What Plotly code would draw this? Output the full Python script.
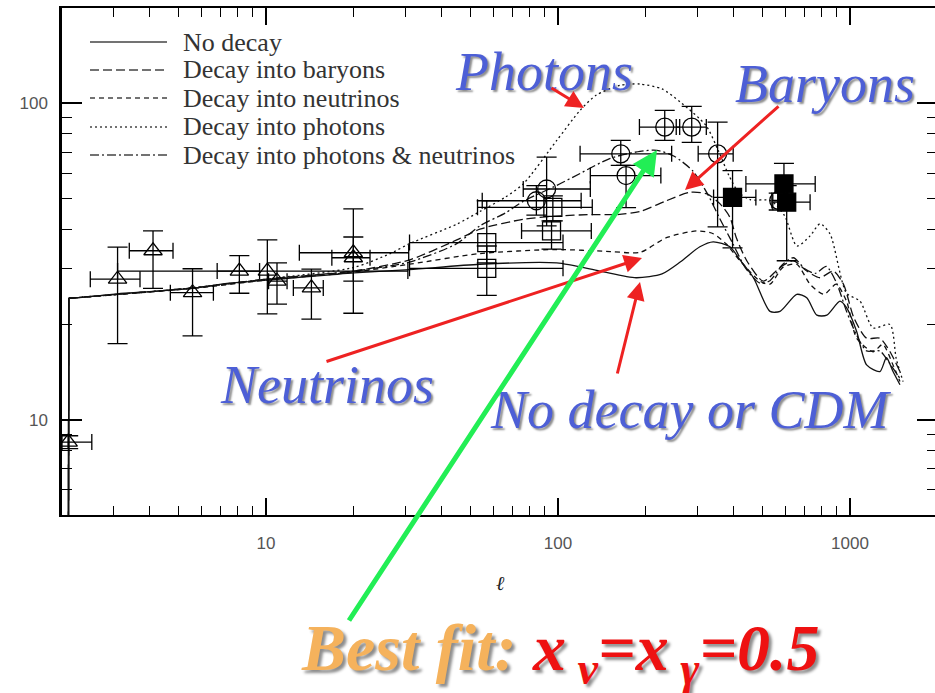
import numpy as np
import plotly.graph_objects as go

# ---------------- model curves: multipole l vs l(l+1)C_l ----------------
ell_nodecay = [2.1, 2.11, 2.5, 3.1, 4.0, 5.6, 7.5, 10, 13, 16.6, 20, 31, 54, 99, 139, 185, 227, 262, 306, 340,
               388, 420, 467, 532, 576, 657, 711, 770, 833, 924, 973, 1054, 1140, 1266, 1333, 1404, 1483]
cl_nodecay = [1.0, 24.2, 24.5, 25.0, 25.4, 26.0, 27.0, 27.6, 28.2, 28.7, 29.1, 29.8, 31.0, 31.3, 29.5, 28.1, 28.9,
              31.5, 35.2, 36.5, 35.2, 32.0, 28.1, 22.0, 22.0, 24.9, 24.3, 21.4, 21.4, 23.7, 22.6, 19.0, 14.9, 14.2,
              15.7, 14.2, 12.9]

ell_baryons = [2.1, 2.11, 5.6, 10, 20, 31, 45, 54, 76, 99, 130, 160, 191, 235, 283, 324, 359, 388, 408, 443, 505,
               576, 640, 711, 789, 876, 950, 1031, 1140, 1266, 1371, 1483]
cl_baryons = [1.0, 24.2, 26.1, 27.8, 29.5, 32.0, 37.0, 40.0, 43.0, 44.0, 44.5, 44.5, 45.5, 49.2, 52.3, 51.7, 48.1,
              43.6, 37.6, 31.8, 27.4, 30.3, 31.8, 29.5, 28.1, 29.5, 26.8, 21.0, 18.1, 18.1, 16.4, 14.2]

ell_neutrinos = [2.1, 2.11, 5.6, 10, 20, 31, 54, 99, 151, 191, 235, 299, 340, 377, 420, 492, 532, 589, 657, 730,
                 814, 897, 973, 1054, 1200, 1295, 1404, 1483]
cl_neutrinos = [1.0, 24.2, 26.0, 27.6, 29.3, 31.0, 33.5, 34.5, 34.0, 33.8, 37.6, 39.5, 38.7, 35.9, 31.8, 27.4, 26.8,
                30.3, 31.0, 26.8, 24.9, 26.8, 23.7, 18.1, 16.4, 17.3, 14.9, 13.2]

ell_photons = [2.1, 2.11, 5.6, 10, 20, 26.6, 31, 45, 54, 66, 76, 99, 119, 135, 163, 191, 227, 262, 321, 354, 385,
               416, 455, 536, 597, 658, 730, 789, 854, 973, 1082, 1200, 1371, 1440, 1520]
cl_photons = [1.0, 24.2, 26.1, 27.8, 30.3, 33.5, 36.0, 41.5, 45.5, 50.5, 55.6, 76.3, 95.0, 106, 114, 115, 111, 101,
              85.1, 70.9, 59.1, 52.2, 49.6, 49.2, 44.1, 35.4, 38.1, 41.6, 38.7, 25.1, 23.7, 19.5, 20.0, 15.6, 13.2]

ell_phnu = [2.1, 2.11, 5.6, 10, 20, 31, 45, 54, 66, 76, 99, 119, 151, 191, 218, 250, 290, 324, 359, 397, 440, 492,
            532, 589, 640, 700, 760, 830, 900, 973, 1054, 1140, 1266, 1371, 1483]
cl_phnu = [1.0, 24.2, 26.1, 27.8, 29.5, 31.5, 36.0, 41.0, 45.0, 49.0, 55.0, 60.0, 67.0, 70.5, 71.0, 68.0, 61.0,
           52.0, 43.0, 36.0, 30.0, 27.0, 27.5, 31.0, 32.5, 30.0, 29.0, 30.5, 27.0, 22.0, 18.5, 16.5, 16.5, 15.0, 13.5]

curve_names = ["No decay", "Decay into baryons", "Decay into neutrinos", "Decay into photons",
               "Decay into photons & neutrinos"]

# ---------------- data points ----------------
tri_l = [2.1, 3.1, 4.1, 5.6, 8.1, 10.1, 10.9, 14.3, 19.9, 19.9]
tri_y = [8.5, 27.8, 34.2, 25.2, 29.5, 29.5, 27.4, 26.1, 33.7, 32.5]
tri_y_hi = [8.9, 35.1, 39.5, 30.0, 33.0, 37.0, 31.3, 29.9, 46.4, 37.8]
tri_y_lo = [8.1, 17.4, 26.0, 18.4, 25.1, 21.6, 23.2, 20.8, 21.7, 27.4]
tri_l_lo = [2.0, 2.5, 3.4, 4.7, 6.8, 3.1, 10.2, 12.4, 13.0, 16.8]
tri_l_hi = [2.53, 3.7, 4.8, 6.6, 9.5, 30.6, 11.8, 15.7, 30.8, 22.7]

sq_l = [57, 57, 96, 95]
sq_y = [36.3, 30.1, 46.9, 39.5]
sq_y_hi = [49.2, 35.4, 51.0, 42.5]
sq_y_lo = [31.3, 24.7, 42.5, 34.6]
sq_l_lo = [31, 31, 53, 75]
sq_l_hi = [104, 104, 131, 130]

ci_l = [91.4, 84.3, 164, 171, 232, 287, 352, 570]
ci_y = [53.6, 49.2, 69.2, 59.1, 84.1, 84.1, 69.2, 49.3]
ci_y_hi = [67.6, 54.9, 76.3, 63.6, 95.0, 97.8, 87.2, 52.0]
ci_y_lo = [41.0, 44.3, 63.6, 46.8, 76.3, 75.2, 40.7, 46.0]
ci_l_lo = [76, 55, 119, 129, 190, 254, 302, 540]
ci_l_hi = [129, 120, 245, 225, 261, 322, 398, 610]

fs_l = [396, 594, 607]
fs_y = [50.4, 55.6, 48.7]
fs_y_hi = [61.3, 64.6, 54.9]
fs_y_lo = [34.9, 49.2, 31.8]
fs_l_lo = [341, 440, 544]
fs_l_hi = [476, 760, 730]

x_tickvals = [10, 100, 1000]
y_tickvals = [10, 100]
x_minor = [3, 4, 5, 6, 7, 8, 9, 20, 30, 40, 50, 60, 70, 80, 90, 200, 300, 400, 500, 600, 700, 800, 900]
y_minor = [6, 7, 8, 9, 20, 30, 40, 50, 60, 70, 80, 90]

# ---------------- styling ----------------
dashes = ["solid", "9px,4px", "5px,4px", "2px,3px", "9px,3px,2px,3px"]
W, H = 935, 693
PL, PR, PT, PB = 62, 935, 8, 515


def pxx(x):
    return (x - PL) / (PR - PL)


def pxy(y):
    return (PB - y) / (PB - PT)


fig = go.Figure()

curves = [(ell_nodecay, cl_nodecay), (ell_baryons, cl_baryons), (ell_neutrinos, cl_neutrinos),
          (ell_photons, cl_photons), (ell_phnu, cl_phnu)]
for (xs, ys), nm, d in zip(curves, curve_names, dashes):
    # the sharp rise at the lowest multipole, drawn straight
    fig.add_trace(go.Scatter(x=xs[:2], y=ys[:2], mode="lines", showlegend=False,
                             line=dict(color="#111", width=1.3)))
    # the rest of the curve, smoothed
    fig.add_trace(go.Scatter(x=xs[1:], y=ys[1:], mode="lines", name=nm, showlegend=False,
                             line=dict(color="#111", width=1.3, dash=d, shape="spline", smoothing=0.7)))


def add_points(lv, yv, yhi, ylo, llo, lhi, symbol, size):
    fig.add_trace(go.Scatter(
        x=lv, y=yv, mode="markers", showlegend=False,
        marker=dict(symbol=symbol, size=size, color="black",
                    line=dict(color="black", width=1.3)),
        error_y=dict(type="data", symmetric=False,
                     array=[h - v for h, v in zip(yhi, yv)],
                     arrayminus=[v - lo for v, lo in zip(yv, ylo)],
                     color="black", thickness=1.3, width=10),
        error_x=dict(type="data", symmetric=False,
                     array=[h - v for h, v in zip(lhi, lv)],
                     arrayminus=[v - lo for v, lo in zip(lv, llo)],
                     color="black", thickness=1.3, width=8),
    ))


add_points(tri_l, tri_y, tri_y_hi, tri_y_lo, tri_l_lo, tri_l_hi, "triangle-up-open", 16)
add_points(sq_l, sq_y, sq_y_hi, sq_y_lo, sq_l_lo, sq_l_hi, "square-open", 18)
add_points(ci_l, ci_y, ci_y_hi, ci_y_lo, ci_l_lo, ci_l_hi, "circle-open", 18)
add_points(fs_l, fs_y, fs_y_hi, fs_y_lo, fs_l_lo, fs_l_hi, "square", 18)

# empty trace to carry the right-hand tick axis
fig.add_trace(go.Scatter(x=[], y=[], yaxis="y2", showlegend=False))

tickfont = dict(family="Liberation Sans, Arial, sans-serif", size=17, color="#555")
fig.update_layout(
    width=W, height=H,
    margin=dict(l=PL, r=W - PR, t=PT, b=H - PB),
    paper_bgcolor="white", plot_bgcolor="white",
    showlegend=False,
    xaxis=dict(type="log", range=[np.log10(2), np.log10(1955)],
               tickvals=x_tickvals, ticktext=[str(v) for v in x_tickvals],
               ticks="inside", ticklen=17, tickwidth=1.5, tickcolor="black",
               showline=True, linecolor="black", linewidth=2, mirror="ticks",
               showgrid=False, zeroline=False, tickfont=tickfont, ticklabelstandoff=12,
               minor=dict(tickvals=x_minor, ticks="inside", ticklen=9, tickwidth=1.3,
                          tickcolor="black", showgrid=False)),
    yaxis=dict(type="log", range=[np.log10(5), np.log10(200)],
               tickvals=y_tickvals, ticktext=[str(v) for v in y_tickvals],
               ticks="inside", ticklen=20, tickwidth=1.5, tickcolor="black",
               showline=True, linecolor="black", linewidth=2.5, mirror=False,
               showgrid=False, zeroline=False, tickfont=tickfont, ticklabelstandoff=8,
               minor=dict(tickvals=y_minor, ticks="inside", ticklen=10, tickwidth=1.3,
                          tickcolor="black", showgrid=False)),
    yaxis2=dict(type="log", range=[np.log10(5), np.log10(200)], overlaying="y", side="right",
                anchor="x", tickvals=y_tickvals, ticks="inside", ticklen=18, tickwidth=1.5,
                tickcolor="black", showline=False, showgrid=False, zeroline=False,
                showticklabels=False,
                minor=dict(tickvals=y_minor, ticks="inside", ticklen=8, tickwidth=1.3,
                           tickcolor="black", showgrid=False)),
)

# ---------------- custom legend ----------------
legend_rows = [42, 70, 98, 127, 155]
shapes = []
annotations = []
for nm, d, ry in zip(curve_names, dashes, legend_rows):
    shapes.append(dict(type="line", xref="paper", yref="paper",
                       x0=pxx(90), x1=pxx(167), y0=pxy(ry), y1=pxy(ry),
                       line=dict(color="#444", width=1.4, dash=d)))
    annotations.append(dict(text=nm, xref="paper", yref="paper", x=pxx(181), y=pxy(ry),
                            xanchor="left", yanchor="middle", showarrow=False,
                            font=dict(family="Liberation Serif, serif", size=26, color="#333")))

# axis title
annotations.append(dict(text="ℓ", xref="paper", yref="paper", x=pxx(500), y=pxy(583),
                        xanchor="center", yanchor="middle", showarrow=False,
                        font=dict(family="DejaVu Serif, serif", size=20, color="#222", style="italic")))

# big labels
blue = "#4d5fd6"
shadow = "2px 2px 2px rgba(0,0,0,0.45)"
labels = [("Photons", 544, 72), ("Baryons", 825, 84), ("Neutrinos", 327, 385), ("No decay or CDM", 690, 410)]
for t, cx, cy in labels:
    annotations.append(dict(text=t, xref="paper", yref="paper", x=pxx(cx), y=pxy(cy),
                            xanchor="center", yanchor="middle", showarrow=False,
                            font=dict(family="Liberation Serif, serif", size=54, color=blue,
                                      style="italic", shadow=shadow)))

annotations.append(dict(
    text="<span style='color:#f5b25c'>Best fit:</span> x<sub> ν</sub>=x<sub> γ</sub>=0.5",
    xref="paper", yref="paper", x=pxx(560), y=pxy(652), xanchor="center", yanchor="middle",
    showarrow=False,
    font=dict(family="Liberation Serif, serif", size=66, color="#ee1111", style="italic",
              weight="bold", shadow="3px 3px 3px rgba(0,0,0,0.45)")))

# arrows: tail (x,y) -> head (x,y) in pixels
arrows = [((550, 87), (584, 108), "#ee2222", 3),
          ((780, 105), (685, 190), "#ee2222", 3),
          ((325, 362), (642, 258), "#ee2222", 3),
          ((617, 375), (640, 282), "#ee2222", 3),
          ((348, 622), (657, 150), "#22ee55", 5)]
for (tx, ty), (hx, hy), col, wd in arrows:
    annotations.append(dict(text="", xref="paper", yref="paper", x=pxx(hx), y=pxy(hy),
                            ax=tx - hx, ay=ty - hy, axref="pixel", ayref="pixel",
                            showarrow=True, arrowhead=2, arrowsize=1.2 if wd == 3 else 1.0,
                            arrowwidth=wd, arrowcolor=col, standoff=0))

fig.update_layout(shapes=shapes, annotations=annotations)
fig.write_html("out.html")
